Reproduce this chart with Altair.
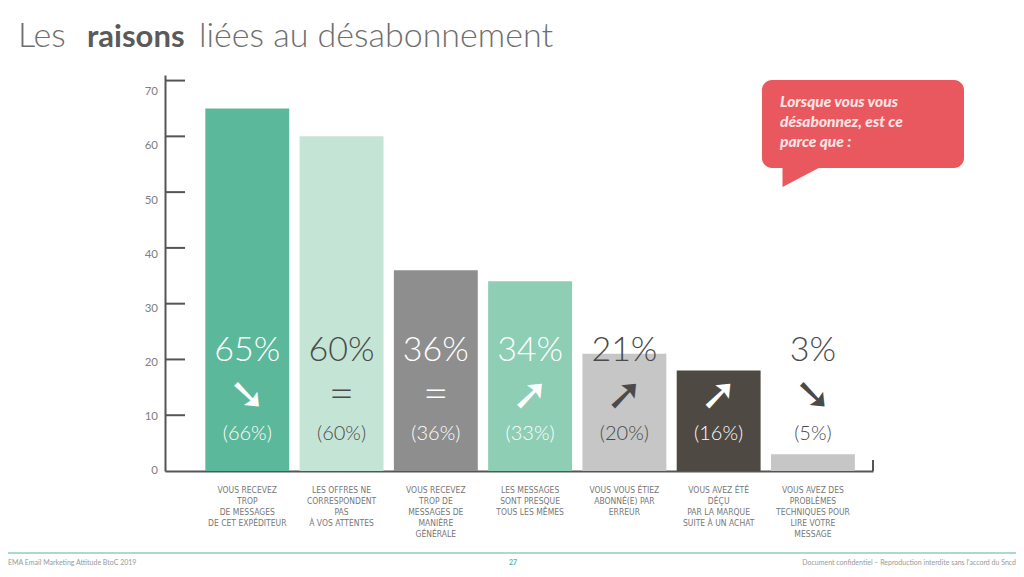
import altair as alt
import pandas as pd

# ---------------- data ----------------
categories = [
    "VOUS RECEVEZ\nTROP\nDE MESSAGES\nDE CET EXPÉDITEUR",
    "LES OFFRES NE\nCORRESPONDENT\nPAS\nÀ VOS ATTENTES",
    "VOUS RECEVEZ\nTROP DE\nMESSAGES DE\nMANIÈRE\nGÉNÉRALE",
    "LES MESSAGES\nSONT PRESQUE\nTOUS LES MÊMES",
    "VOUS VOUS ÉTIEZ\nABONNÉ(E) PAR\nERREUR",
    "VOUS AVEZ ÉTÉ\nDÉÇU\nPAR LA MARQUE\nSUITE À UN ACHAT",
    "VOUS AVEZ DES\nPROBLÈMES\nTECHNIQUES POUR\nLIRE VOTRE\nMESSAGE",
]
values = [65, 60, 36, 34, 21, 18, 3]
pct_labels = ["65%", "60%", "36%", "34%", "21%", "18%", "3%"]
previous_labels = ["(66%)", "(60%)", "(36%)", "(33%)", "(20%)", "(16%)", "(5%)"]
trend_symbols = ["➘", "=", "=", "➚", "➚", "➚", "➘"]
bar_colors = ["#5cb89b", "#c4e5d6", "#8e8e8e", "#8dceb5", "#c6c6c6", "#4e4943", "#c6c6c6"]
text_colors = ["#ffffff", "#4a4a4a", "#ffffff", "#ffffff", "#4a4a4a", "#ffffff", "#4a4a4a"]
y_ticks = [0, 10, 20, 30, 40, 50, 60, 70]
y_tick_labels = ["0", "10", "20", "30", "40", "50", "60", "70"]

title_parts = ["Les", "raisons", "liées au désabonnement"]
bubble_text = "Lorsque vous vous\ndésabonnez, est ce\nparce que :"
footer_left = "EMA Email Marketing Attitude BtoC 2019"
footer_mid = "27"
footer_right = "Document confidentiel – Reproduction interdite sans l'accord du Sncd"

df = pd.DataFrame({
    "cat": categories,
    "value": values,
    "bar_color": bar_colors,
    "pct": pct_labels,
    "prev": previous_labels,
    "sym": trend_symbols,
    "txt_color": text_colors,
})

W, H = 708, 396
AX = "#555555"

xscale = alt.Scale(paddingInner=0.11, paddingOuter=0.31, align=0.69)
x = alt.X("cat:N", sort=None, scale=xscale,
          axis=alt.Axis(labels=False, ticks=False, title=None, domain=True,
                        domainColor=AX, domainWidth=2))
yscale = alt.Scale(domain=[0, 71], nice=False, zero=True)

bars = alt.Chart(df).mark_bar().encode(
    x=x,
    y=alt.Y("value:Q", scale=yscale,
            axis=alt.Axis(labels=False, ticks=False, grid=False, title=None,
                          domainColor=AX, domainWidth=2)),
    color=alt.Color("bar_color:N", scale=None),
)

tick_df = pd.DataFrame({"t": y_ticks[1:]})
ticks = alt.Chart(tick_df).mark_rule(color=AX, strokeWidth=2).encode(
    y=alt.Y("t:Q", scale=yscale), x=alt.value(0), x2=alt.value(20)
)

end_tick = alt.Chart(pd.DataFrame({"a": [1]})).mark_rule(color=AX, strokeWidth=2).encode(
    x=alt.value(W), y=alt.value(H - 11), y2=alt.value(H)
)

pct_text = alt.Chart(df).mark_text(font="Lato", fontWeight=300, fontSize=34,
                                   baseline="middle").encode(
    x=x, y=alt.value(276), text="pct:N", color=alt.Color("txt_color:N", scale=None)
)

arrows = alt.Chart(df).transform_filter("datum.sym != '='").mark_text(
    font="DejaVu Sans", fontSize=44, baseline="middle").encode(
    x=x, y=alt.value(321), text="sym:N", color=alt.Color("txt_color:N", scale=None)
)
equals = alt.Chart(df).transform_filter("datum.sym == '='").mark_text(
    font="Lato", fontWeight=300, fontSize=44, baseline="middle").encode(
    x=x, y=alt.value(321), text="sym:N", color=alt.Color("txt_color:N", scale=None)
)

prev_text = alt.Chart(df).mark_text(font="Lato", fontWeight=300, fontSize=20,
                                    baseline="middle").encode(
    x=x, y=alt.value(359), text="prev:N", color=alt.Color("txt_color:N", scale=None)
)

cat_text = alt.Chart(df).mark_text(
    font="Liberation Sans Narrow, DejaVu Sans Condensed, Roboto", fontSize=8.5,
    lineBreak="\n", lineHeight=11, baseline="top", color="#777777").encode(
    x=x, y=alt.value(H + 15), text="cat:N"
)

# y tick labels (slightly different spacing than the ticks in the original)
ylab_df = pd.DataFrame({"t": y_ticks, "lab": y_tick_labels})
ylabels = alt.Chart(ylab_df).mark_text(
    font="Lato", fontSize=11.5, color="#808080", align="right", baseline="middle").encode(
    y=alt.Y("t:Q", scale=alt.Scale(domain=[0, 73.2], nice=False), axis=None),
    x=alt.value(-7), text="lab:N"
)

# title
title_layers = []
for i, part in enumerate(title_parts):
    title_layers.append(
        alt.Chart(pd.DataFrame({"t": [part]})).mark_text(
            font="Lato", fontSize=[34, 31, 34][i], fontWeight=[300, 700, 300][i],
            align="left", baseline="alphabetic",
            color=["#6e6e6e", "#5a5a5a", "#6e6e6e"][i]).encode(
            x=alt.value([-147, -78, 34][i]), y=alt.value(-28), text="t:N")
    )

# speech bubble
BUB = "#e9585e"
bubble_rect = alt.Chart(pd.DataFrame({"a": [1]})).mark_rect(
    color=BUB, cornerRadius=10).encode(
    x=alt.value(597), x2=alt.value(799), y=alt.value(5), y2=alt.value(93)
)
bubble_tail = alt.Chart(pd.DataFrame({"a": [1]})).mark_point(
    shape="M-1,-0.55 L1,-0.55 L-1,0.5 Z", filled=True, opacity=1,
    color=BUB, size=1600).encode(
    x=alt.value(637.5), y=alt.value(102)
)
bubble_txt = alt.Chart(pd.DataFrame({"t": [bubble_text]})).mark_text(
    font="Lato", fontSize=15.5, fontWeight=900, fontStyle="italic",
    color="#fbe3e4", align="left", baseline="top", lineBreak="\n", lineHeight=20).encode(
    x=alt.value(615), y=alt.value(20), text="t:N"
)

# footer
footer_line = alt.Chart(pd.DataFrame({"a": [1]})).mark_rule(
    color="#8ecfb5", strokeWidth=1.5).encode(
    x=alt.value(-157), x2=alt.value(851), y=alt.value(478)
)
f_left = alt.Chart(pd.DataFrame({"t": [footer_left]})).mark_text(
    font="Lato", fontSize=7, color="#999999", align="left", baseline="middle").encode(
    x=alt.value(-157), y=alt.value(488), text="t:N")
f_mid = alt.Chart(pd.DataFrame({"t": [footer_mid]})).mark_text(
    font="Lato", fontSize=7, fontWeight="bold", color="#5cb89b", align="center",
    baseline="middle").encode(x=alt.value(348), y=alt.value(488), text="t:N")
f_right = alt.Chart(pd.DataFrame({"t": [footer_right]})).mark_text(
    font="Lato", fontSize=7, color="#999999", align="right", baseline="middle").encode(
    x=alt.value(851), y=alt.value(488), text="t:N")

main = alt.layer(
    bars, ticks, end_tick, pct_text, arrows, equals, prev_text, cat_text,
    *title_layers, bubble_rect, bubble_tail, bubble_txt,
    footer_line, f_left, f_mid, f_right,
)

chart = alt.layer(main, ylabels).resolve_scale(y="independent").properties(
    width=W, height=H,
    padding={"left": 157, "top": 67, "right": 143, "bottom": 98},
    autosize=alt.AutoSizeParams(type="none"),
).configure_view(stroke=None)

chart.save("out.html", embed_options={"renderer": "svg", "actions": False})
